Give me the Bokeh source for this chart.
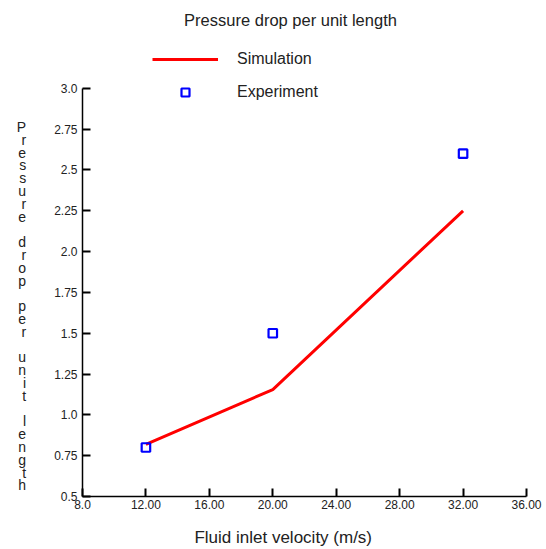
from bokeh.plotting import figure
from bokeh.models import Label, Legend, LegendItem, FixedTicker, Range1d
from bokeh.embed import file_html
from bokeh.resources import INLINE

# Data
velocity_sim = [12.0, 20.0, 32.0]
pressure_sim = [0.82, 1.155, 2.25]
velocity_exp = [12.0, 20.0, 32.0]
pressure_exp = [0.80, 1.50, 2.60]

x_ticks = [8, 12, 16, 20, 24, 28, 32, 36]
x_tick_labels = ["8.0", "12.00", "16.00", "20.00", "24.00", "28.00", "32.00", "36.00"]
y_ticks = [0.5, 0.75, 1.0, 1.25, 1.5, 1.75, 2.0, 2.25, 2.5, 2.75, 3.0]
y_tick_labels = ["0.5", "0.75", "1.0", "1.25", "1.5", "1.75", "2.0", "2.25", "2.5", "2.75", "3.0"]

title_text = "Pressure drop per unit length"
x_label = "Fluid inlet velocity (m/s)"
y_label = "Pressure drop per unit length"

FONT = "Liberation Sans"
TEXT_COLOR = "#222222"
NBSP = "\u00a0"

# The frame runs up to the top of the canvas so that the title and legend
# sit inside it; the y axis itself is bounded to 0.5 .. 3.0.
p = figure(width=546, height=549, output_backend="svg", toolbar_location=None,
           x_range=Range1d(8, 36), y_range=Range1d(0.5, 3.538),
           min_border_left=82, min_border_right=20, min_border_top=0,
           min_border_bottom=52)
p.outline_line_color = None
p.grid.visible = False
p.background_fill_color = "white"
p.border_fill_color = "white"

for ax, ticks, labels in ((p.xaxis[0], x_ticks, x_tick_labels),
                          (p.yaxis[0], y_ticks, y_tick_labels)):
    ax.ticker = FixedTicker(ticks=ticks)
    ax.major_label_overrides = {t: l for t, l in zip(ticks, labels)}
    ax.axis_line_color = "black"
    ax.axis_line_width = 1.5
    ax.major_tick_in = 8
    ax.major_tick_out = 0
    ax.major_tick_line_width = 2
    ax.major_tick_line_color = "black"
    ax.minor_tick_line_color = None
    ax.major_label_text_font = FONT
    ax.major_label_text_font_size = "12px"
    ax.major_label_text_color = TEXT_COLOR

p.yaxis.bounds = (0.5, 3.0)
p.xaxis.major_label_standoff = 3
p.yaxis.major_label_standoff = 5
p.yaxis.major_label_text_baseline = "alphabetic"

# x axis title; trailing no-break spaces set it a little left of centre
p.xaxis.axis_label = x_label + NBSP * 9
p.xaxis.axis_label_text_font = FONT
p.xaxis.axis_label_text_font_size = "17px"
p.xaxis.axis_label_text_font_style = "normal"
p.xaxis.axis_label_text_color = TEXT_COLOR
p.xaxis.axis_label_standoff = 16

# Upright letters stacked one per line along the y axis; the leading blank
# lines push the column down beside the bounded axis.
p.yaxis.axis_label = "\n".join([" "] * 9 + list(y_label))
p.yaxis.axis_label_orientation = "horizontal"
p.yaxis.axis_label_text_font = FONT
p.yaxis.axis_label_text_font_size = "14px"
p.yaxis.axis_label_text_font_style = "normal"
p.yaxis.axis_label_text_line_height = 0.80
p.yaxis.axis_label_text_color = TEXT_COLOR
p.yaxis.axis_label_standoff = 25

sim = p.line(velocity_sim, pressure_sim, line_color="#ff0000", line_width=3)
exp = p.scatter(velocity_exp, pressure_exp, marker="square", size=8.5,
                fill_color=None, line_color="#0000ff", line_width=2.2)

legend = Legend(items=[LegendItem(label="Simulation", renderers=[sim]),
                       LegendItem(label="Experiment", renderers=[exp])],
                location=(70, 394), orientation="vertical",
                glyph_width=66, glyph_height=20, spacing=13, padding=0,
                margin=0, label_standoff=19, label_text_font=FONT,
                label_text_font_size="16px", label_text_color=TEXT_COLOR,
                border_line_color=None, background_fill_alpha=0)
p.add_layout(legend, "center")

# Chart title
p.add_layout(Label(x=208, y=477, x_units="screen", y_units="screen",
                   text=title_text, text_align="center", text_baseline="middle",
                   text_font=FONT, text_font_size="16.5px", text_color=TEXT_COLOR))

open("out.html", "w").write(file_html(p, INLINE))
